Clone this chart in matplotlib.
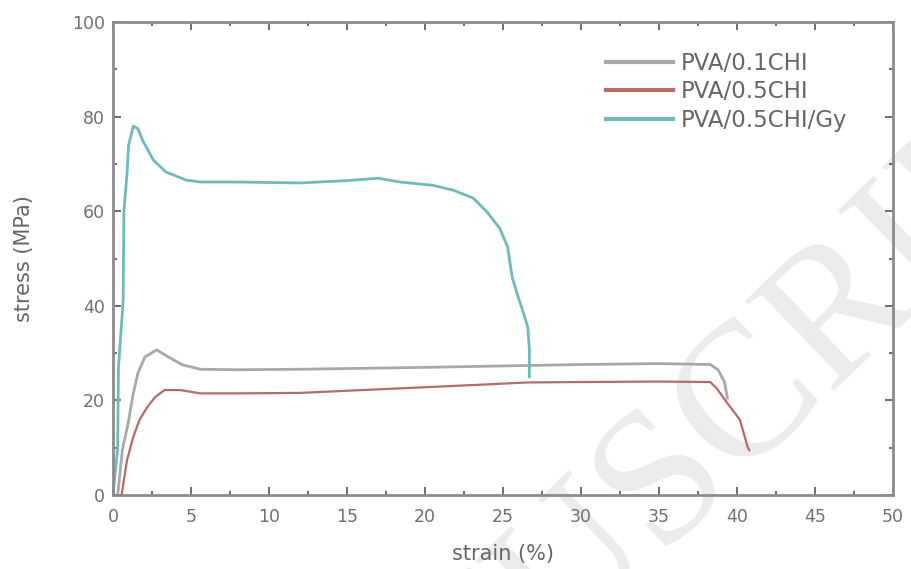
import numpy as np
import matplotlib
matplotlib.use("Agg")
import matplotlib.pyplot as plt
from matplotlib.ticker import MultipleLocator

# data (strain %, stress MPa)
strain_01chi = [0.3, 0.6, 0.96, 1.3, 1.6, 2.05, 2.8, 3.65, 4.5, 5.6, 8, 12, 16,
                20, 25, 30, 35, 38.3, 38.8, 39.2, 39.4]
stress_01chi = [0, 9.5, 15, 21.5, 25.8, 29.2, 30.7, 29, 27.5, 26.6, 26.5, 26.6,
                26.8, 27, 27.3, 27.6, 27.8, 27.6, 26.5, 24, 20.5]

strain_05chi = [0.55, 0.9, 1.3, 1.7, 2.2, 2.7, 3.3, 4.3, 5.6, 8, 12, 16, 20,
                24, 26.5, 30, 35, 38.3, 38.7, 39.4, 40.2, 40.7, 40.8]
stress_05chi = [0, 7.4, 12.3, 15.9, 18.6, 20.7, 22.2, 22.2, 21.5, 21.5, 21.6,
                22.2, 22.8, 23.4, 23.8, 23.9, 24.0, 23.9, 22.6, 19.4, 15.9, 10.1, 9.5]

strain_gy = [0, 0.3, 0.35, 0.65, 0.7, 0.9, 1.0, 1.3, 1.6, 1.9, 2.6, 3.4, 4.7,
             5.6, 8, 12, 15, 17, 18.4, 20.5, 21.8, 23.1, 24.0, 24.8, 25.3,
             25.6, 25.9, 26.2, 26.6, 26.7, 26.7]
stress_gy = [0, 10, 27, 41, 60, 68, 74, 78, 77.5, 75, 70.8, 68.3, 66.6, 66.2,
             66.2, 66, 66.5, 67, 66.2, 65.5, 64.5, 62.8, 59.8, 56.4, 52.5,
             46, 42.7, 39.7, 35.5, 30.7, 25]

labels = ["PVA/0.1CHI", "PVA/0.5CHI", "PVA/0.5CHI/Gy"]
colors = ["#a8a8a8", "#b86a6a", "#6cbcbc"]

plt.rcParams["font.family"] = ["DejaVu Sans"]

fig = plt.figure(figsize=(9.12, 5.69), dpi=100)
ax = fig.add_axes([0.1239, 0.130, 0.855, 0.831])
ax.patch.set_alpha(0)

# faint diagonal watermark behind the plot
fig.text(0.713, 0.125, "MANUSCRIPT", rotation=44, fontsize=138,
         family="Liberation Serif", color="#ebebeb", ha="center",
         va="center", zorder=-1)

ax.plot(strain_01chi, stress_01chi, color=colors[0], lw=2.0, label=labels[0])
ax.plot(strain_05chi, stress_05chi, color=colors[1], lw=1.6, label=labels[1])
ax.plot(strain_gy, stress_gy, color=colors[2], lw=2.0, label=labels[2])

ax.set_xlim(0, 50)
ax.set_ylim(0, 100)
ax.xaxis.set_major_locator(MultipleLocator(5))
ax.xaxis.set_minor_locator(MultipleLocator(2.5))
ax.yaxis.set_major_locator(MultipleLocator(20))
ax.yaxis.set_minor_locator(MultipleLocator(10))
ax.tick_params(which="both", direction="in", top=True, right=True,
               color="#555555", labelcolor="#707070", labelsize=12.5, width=1.2)
ax.tick_params(which="major", length=6, pad=6)
ax.tick_params(axis="x", which="major", pad=9)
ax.tick_params(which="minor", length=3)
for sp in ax.spines.values():
    sp.set_color("#8c8c8c")
    sp.set_linewidth(2)

ax.set_xlabel("strain (%)", fontsize=15, color="#666666", labelpad=13)
ax.set_ylabel("stress (MPa)", fontsize=15, color="#666666", labelpad=27)

leg = ax.legend(loc="upper right", bbox_to_anchor=(0.968, 0.981), frameon=False,
                fontsize=16.5, handlelength=2.9, labelspacing=0.24,
                handletextpad=0.35, borderpad=0.4)
for t in leg.get_texts():
    t.set_color("#666666")
for h in leg.get_lines():
    h.set_linewidth(3)

fig.savefig("out.png", dpi=100)
